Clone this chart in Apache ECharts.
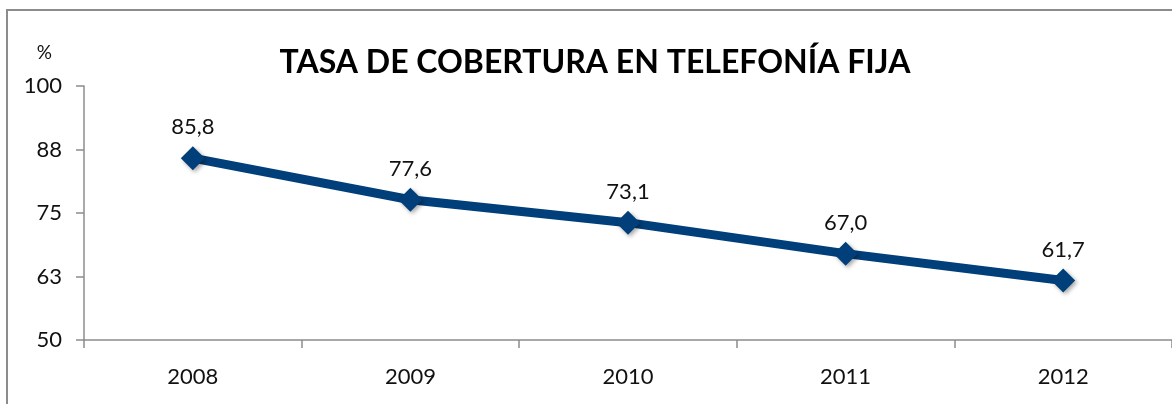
<!DOCTYPE html>
<html>
<head>
  <meta charset="UTF-8">
  <title>Tasa de cobertura</title>
  <script src="https://cdn.jsdelivr.net/npm/echarts@6/dist/echarts.min.js"></script>
  <style>
    html, body { margin: 0; padding: 0; background: #fff; }
    #main { width: 1172px; height: 404px; }
  </style>
</head>
<body>
<div id="main"></div>
<script type="text/javascript">
  var years = ['2008', '2009', '2010', '2011', '2012'];
  var cobertura = [85.8, 77.6, 73.1, 67.0, 61.7];
  var yTicks = [50, 62.5, 75, 87.5, 100];

  var myChart = echarts.init(document.getElementById('main'));

  var option = {
    animation: false,
    textStyle: { fontFamily: 'Lato' },
    title: {
      text: 'TASA DE COBERTURA EN TELEFONÍA FIJA',
      left: 590,
      textAlign: 'center',
      top: 42,
      textStyle: { fontFamily: 'Lato', fontWeight: 'bold', fontSize: 32, color: '#000' }
    },
    graphic: [{
      type: 'rect',
      shape: { x: 7, y: 10, width: 1200, height: 450 },
      style: { fill: null, stroke: '#8c8c8c', lineWidth: 2 },
      silent: true
    }],
    grid: { left: 84, right: -7, top: 86, bottom: 64 },
    xAxis: {
      type: 'category',
      data: years,
      boundaryGap: true,
      axisLine: { lineStyle: { color: '#8c8c8c', width: 1.5 } },
      axisTick: { show: true, length: 8, lineStyle: { color: '#8c8c8c', width: 1.5 } },
      axisLabel: { fontSize: 22, color: '#111', margin: 26 }
    },
    yAxis: {
      type: 'value',
      min: yTicks[0],
      max: yTicks[yTicks.length - 1],
      interval: yTicks[1] - yTicks[0],
      name: '%',
      nameLocation: 'end',
      nameGap: 24,
      nameTextStyle: { fontSize: 19, color: '#111', align: 'right', padding: [0, 32, 0, 0] },
      splitLine: { show: false },
      axisLine: { show: true, lineStyle: { color: '#8c8c8c', width: 1.5 } },
      axisTick: { show: true, length: 8, lineStyle: { color: '#8c8c8c', width: 1.5 } },
      axisLabel: {
        fontSize: 22, color: '#111', margin: 22,
        formatter: function (v) { return Math.round(v + 0.001); }
      }
    },
    series: [{
      type: 'line',
      data: cobertura,
      symbol: 'diamond',
      symbolSize: 24,
      lineStyle: { color: '#003f7a', width: 9 },
      itemStyle: { color: '#003f7a', shadowColor: 'rgba(0,0,0,0.35)', shadowBlur: 4, shadowOffsetX: 2, shadowOffsetY: 2 },
      label: {
        show: true,
        position: 'top',
        distance: 8,
        fontSize: 22,
        color: '#111',
        formatter: function (p) { return p.value.toFixed(1).replace('.', ','); }
      }
    }]
  };

  myChart.setOption(option);
</script>
</body>
</html>
